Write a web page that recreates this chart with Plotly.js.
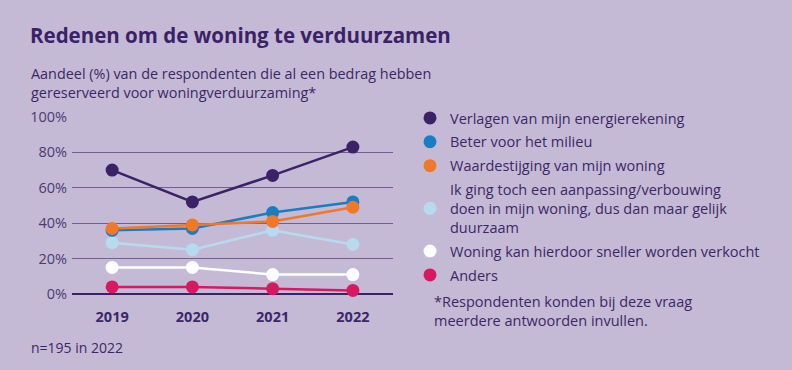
<!DOCTYPE html>
<html>
<head>
<meta charset="utf-8">
<script src="https://cdn.plot.ly/plotly-3.0.1.min.js"></script>
<style>
html,body{margin:0;padding:0;background:#c5bad6;}
#chart{width:792px;height:370px;}
</style>
</head>
<body>
<div id="chart"></div>
<script>
var years = ['2019', '2020', '2021', '2022'];
var seriesNames = [
  'Verlagen van mijn energierekening',
  'Beter voor het milieu',
  'Waardestijging van mijn woning',
  'Ik ging toch een aanpassing/verbouwing<br>doen in mijn woning, dus dan maar gelijk<br>duurzaam',
  'Woning kan hierdoor sneller worden verkocht',
  'Anders'
];
var energierekening = [70, 52, 67, 83];
var milieu = [36, 37, 46, 52];
var waardestijging = [37, 39, 41, 49];
var verbouwing = [29, 25, 36, 28];
var verkocht = [15, 15, 11, 11];
var anders = [4, 4, 3, 2];
var yTickVals = [0, 20, 40, 60, 80, 100];
var yTickText = ['0%', '20%', '40%', '60%', '80%', '100%'];

var seriesValues = [energierekening, milieu, waardestijging, verbouwing, verkocht, anders];
var colors = ['#3b2266', '#1a7dc1', '#f07828', '#b6dbef', '#ffffff', '#d7195f'];
var drawOrder = [5, 4, 3, 1, 2, 0];

var FONT = 'Open Sans, sans-serif';
var TXT = '#3b2766';

var traces = [];
drawOrder.forEach(function (i) {
  traces.push({
    x: years, y: seriesValues[i], type: 'scatter', mode: 'lines',
    line: {color: colors[i], width: 2.5}, showlegend: false, hoverinfo: 'skip',
    cliponaxis: false
  });
});
drawOrder.forEach(function (i) {
  traces.push({
    x: years, y: seriesValues[i], type: 'scatter', mode: 'markers',
    name: seriesNames[i], legendrank: i + 1, legendgroup: 'g' + i,
    marker: {color: colors[i], size: 13},
    cliponaxis: false
  });
});

var layout = {
  width: 792, height: 370,
  margin: {l: 0, r: 0, t: 0, b: 0},
  paper_bgcolor: '#c5bad6', plot_bgcolor: '#c5bad6',
  font: {family: FONT, color: TXT, size: 14.5},
  xaxis: {
    type: 'category', range: [-0.5, 3.5], domain: [72 / 792, 393 / 792],
    showgrid: false, zeroline: false, showline: false, ticks: '',
    tickfont: {family: FONT, size: 14.5, color: TXT, weight: 700},
    ticklabelstandoff: 12, fixedrange: true
  },
  yaxis: {
    range: [0, 100], domain: [1 - 294 / 370, 1 - 117 / 370],
    tickvals: yTickVals, ticktext: yTickText,
    showgrid: true, gridcolor: '#715f94', gridwidth: 1.2,
    zeroline: true, zerolinecolor: '#3b2266', zerolinewidth: 2,
    showline: false, ticks: '',
    tickfont: {family: FONT, size: 14.5, color: '#4a3a72'},
    ticklabelstandoff: 4, fixedrange: true
  },
  legend: {
    x: 410 / 792, xanchor: 'left', y: 1 - 102 / 370, yanchor: 'top',
    bgcolor: 'rgba(0,0,0,0)', font: {family: FONT, size: 14.5, color: TXT},
    traceorder: 'grouped', tracegroupgap: 2
  },
  annotations: [
    {text: 'Redenen om de woning te verduurzamen', xref: 'paper', yref: 'paper',
     x: 28 / 792, y: 1 - 35 / 370, xanchor: 'left', yanchor: 'middle', showarrow: false,
     font: {family: FONT, size: 20.5, color: '#3b2266', weight: 700}},
    {text: 'Aandeel (%) van de respondenten die al een bedrag hebben<br>gereserveerd voor woningverduurzaming*',
     xref: 'paper', yref: 'paper', x: 29 / 792, y: 1 - 82.5 / 370, xanchor: 'left', yanchor: 'middle',
     align: 'left', showarrow: false, font: {family: FONT, size: 14.4, color: TXT}},
    {text: 'n=195 in 2022', xref: 'paper', yref: 'paper', x: 29 / 792, y: 1 - 347 / 370,
     xanchor: 'left', yanchor: 'middle', showarrow: false, font: {family: FONT, size: 14, color: TXT}},
    {text: '*Respondenten konden bij deze vraag<br>meerdere antwoorden invullen.',
     xref: 'paper', yref: 'paper', x: 432 / 792, y: 1 - 311 / 370, xanchor: 'left', yanchor: 'middle',
     align: 'left', showarrow: false, font: {family: FONT, size: 14.5, color: TXT}}
  ]
};

Plotly.newPlot('chart', traces, layout, {displayModeBar: false, staticPlot: true});
</script>
</body>
</html>
